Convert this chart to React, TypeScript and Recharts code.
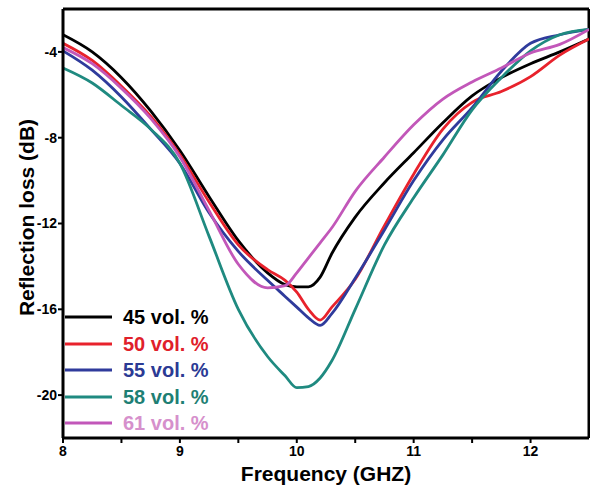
import React from "react";
import { LineChart, Line, XAxis, YAxis, Legend, ReferenceLine } from "recharts";

// frequency points (GHz)
const freq = [8, 8.25, 8.5, 8.75, 9, 9.25, 9.5, 9.75, 9.9, 10, 10.1, 10.2, 10.3, 10.5, 10.75, 11, 11.25, 11.5, 11.75, 12, 12.25, 12.5];

// reflection loss (dB) per filler loading
const rl45 = [-3.2, -4.0, -5.2, -6.75, -8.6, -10.75, -12.8, -14.3, -14.85, -14.95, -14.95, -14.5, -13.4, -11.7, -10.1, -8.7, -7.3, -6.05, -5.2, -4.55, -4.0, -3.4];
const rl50 = [-3.6, -4.4, -5.6, -7.0, -8.8, -11.0, -13.0, -14.15, -14.65, -15.2, -16.0, -16.5, -15.9, -14.6, -12.1, -9.7, -7.6, -6.35, -5.85, -5.15, -4.15, -3.4];
const rl55 = [-3.95, -4.85, -6.1, -7.6, -9.2, -11.5, -13.3, -14.65, -15.4, -15.9, -16.4, -16.75, -16.2, -14.55, -12.3, -10.0, -8.1, -6.6, -4.9, -3.6, -3.2, -2.95];
const rl58 = [-4.75, -5.45, -6.5, -7.6, -9.2, -12.6, -16.0, -18.2, -19.1, -19.65, -19.6, -19.2, -18.4, -16.0, -13.0, -10.8, -8.8, -6.7, -5.2, -3.95, -3.2, -2.95];
const rl61 = [-3.8, -4.55, -5.7, -7.1, -8.9, -11.4, -13.9, -15.0, -14.9, -14.3, -13.6, -12.9, -12.2, -10.5, -8.9, -7.4, -6.2, -5.4, -4.75, -4.05, -3.65, -2.95];

const xTicks = [8, 8.5, 9, 9.5, 10, 10.5, 11, 11.5, 12];
const yTicks = [-20, -16, -12, -8, -4];

const series = [
  { key: "s45", name: "45 vol. %", values: rl45, color: "#000000", text: "#000000" },
  { key: "s50", name: "50 vol. %", values: rl50, color: "#e8222c", text: "#e0202a" },
  { key: "s55", name: "55 vol. %", values: rl55, color: "#2f3b9c", text: "#2b3a94" },
  { key: "s58", name: "58 vol. %", values: rl58, color: "#1f8a80", text: "#1e7f74" },
  { key: "s61", name: "61 vol. %", values: rl61, color: "#c257b9", text: "#d690cc" },
];

const data = freq.map((f, i) => {
  const row: Record<string, number> = { f };
  series.forEach((s) => {
    row[s.key] = s.values[i];
  });
  return row;
});

const FONT = "'Liberation Sans', Arial, sans-serif";

function LegendBox({ payload }: any) {
  return (
    <div style={{ fontFamily: FONT }}>
      {(payload || []).map((p: any) => {
        const s = series.find((x) => x.key === p.dataKey);
        return (
          <div key={p.value} style={{ display: "flex", alignItems: "center", height: 26.5 }}>
            <svg width={49} height={6} style={{ marginRight: 10 }}>
              <line x1={1} y1={3} x2={48} y2={3} stroke={p.color} strokeWidth={3} />
            </svg>
            <span style={{ fontSize: 20, fontWeight: 700, color: s ? s.text : p.color, lineHeight: "20px" }}>
              {p.value}
            </span>
          </div>
        );
      })}
    </div>
  );
}

export default function App() {
  const tickStyle = { fill: "#000", fontSize: 14, fontWeight: 700, fontFamily: FONT };
  return (
    <div style={{ position: "absolute", left: 0, top: 0, width: 590, height: 486, background: "#fff" }}>
      <LineChart width={590} height={486} data={data} margin={{ top: 9, right: 1, left: 0, bottom: 0 }}>
        <XAxis
          dataKey="f"
          type="number"
          domain={[8, 12.5]}
          ticks={xTicks}
          tickFormatter={(v: number) => (Number.isInteger(v) ? String(v) : "")}
          height={48}
          tick={tickStyle}
          tickSize={5}
          tickMargin={3}
          axisLine={{ stroke: "#000", strokeWidth: 3 }}
          tickLine={{ stroke: "#000", strokeWidth: 2 }}
          allowDataOverflow
          label={{
            value: "Frequency (GHZ)",
            position: "insideBottom",
            offset: 5,
            style: { fill: "#000", fontSize: 21, fontWeight: 700, fontFamily: FONT },
          }}
        />
        <YAxis
          type="number"
          domain={[-22, -2]}
          ticks={yTicks}
          width={63}
          tick={tickStyle}
          tickSize={5}
          tickMargin={1}
          axisLine={{ stroke: "#000", strokeWidth: 3 }}
          tickLine={{ stroke: "#000", strokeWidth: 2 }}
          allowDataOverflow
          label={{
            value: "Reflection loss (dB)",
            angle: -90,
            position: "insideLeft",
            offset: 27,
            dy: -6,
            style: { textAnchor: "middle", fill: "#000", fontSize: 21, fontWeight: 700, fontFamily: FONT },
          }}
        />
        <ReferenceLine y={-2} stroke="#000" strokeWidth={3} />
        <ReferenceLine x={12.5} stroke="#000" strokeWidth={3} />
        {series.map((s) => (
          <Line
            key={s.key}
            type="monotone"
            dataKey={s.key}
            name={s.name}
            stroke={s.color}
            strokeWidth={2.8}
            dot={false}
            isAnimationActive={false}
          />
        ))}
        <Legend
          layout="horizontal"
          verticalAlign="middle"
          align="center"
          content={<LegendBox />}
          wrapperStyle={{ left: 64, top: 304, width: 200 }}
        />
      </LineChart>
    </div>
  );
}
